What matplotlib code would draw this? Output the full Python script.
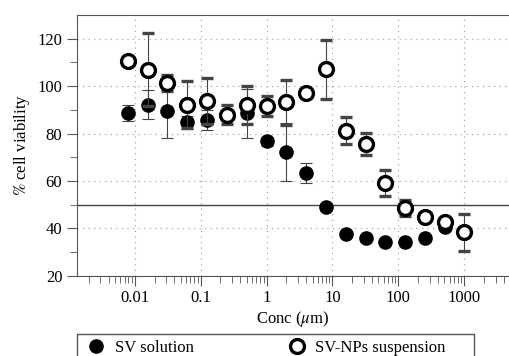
import numpy as np
import matplotlib
matplotlib.use('Agg')
import matplotlib.pyplot as plt
from matplotlib.patches import Rectangle

# concentrations (um), two-fold dilution series
conc = [0.0078, 0.0156, 0.03125, 0.0625, 0.125, 0.25, 0.5, 1, 2, 4, 8,
        16, 32, 64, 128, 256, 512, 1000]

# SV solution
sv_mean = [88.8, 92.2, 89.6, 84.7, 85.7, 88.0, 88.6, 76.7, 72.3, 63.2, 49.2,
           37.6, 35.9, 34.5, 34.1, 35.9, 40.8, 38.0]
sv_err = [3.4, 6.0, 11.4, 2.8, 4.1, 2.0, 10.3, 2.0, 12.2, 4.2, 0,
          0, 0, 0, 0, 0, 0, 0]

# SV-NPs suspension
np_mean = [110.4, 107.0, 101.4, 92.2, 93.8, 88.0, 92.0, 91.7, 93.1, 97.2, 107.1,
           81.2, 75.6, 59.1, 48.6, 44.8, 42.7, 38.3]
np_err = [0, 15.2, 3.4, 9.8, 9.6, 3.9, 7.9, 4.1, 9.6, 0, 12.5,
          5.6, 4.8, 5.5, 3.5, 0, 0, 8.0]

plt.rcParams['font.family'] = 'Liberation Serif'
plt.rcParams['mathtext.fontset'] = 'stix'
plt.rcParams['font.size'] = 12

fig = plt.figure(figsize=(5.09, 3.56), dpi=100)
ax = fig.add_axes([0.151, 0.225, 0.849, 0.733])

ax.axhline(50, color='#444444', lw=1.0, zorder=1)

ax.errorbar(conc, sv_mean, yerr=sv_err, fmt='o', color='black', ms=9.5,
            ecolor='#444444', elinewidth=0.8, capsize=4, capthick=0.8,
            label='SV solution', zorder=3)
ax.errorbar(conc, np_mean, yerr=np_err, fmt='o', mfc='white', mec='black',
            mew=2.4, ms=10, ecolor='#444444', elinewidth=0.8, capsize=4,
            capthick=0.8, label='SV-NPs suspension', zorder=4)

ax.set_xscale('log')
ax.set_xlim(0.00132, 4800)
ax.set_ylim(20, 130)
ax.set_yticks([20, 40, 60, 80, 100, 120])
ax.set_yticks([30, 50, 70, 90, 110], minor=True)
ax.set_xticks([0.01, 0.1, 1, 10, 100, 1000])
ax.set_xticklabels(['0.01', '0.1', '1', '10', '100', '1000'])

ax.grid(True, which='major', ls=(0, (1, 4)), color='#999999', lw=0.8)
ax.tick_params(which='both', direction='out', color='#555555')
ax.tick_params(which='major', length=7)
ax.tick_params(which='minor', length=5)
for s in ['left', 'top', 'bottom']:
    ax.spines[s].set_color('#555555')
ax.spines['right'].set_visible(False)

ax.set_xlabel(r'Conc ($\mu$m)', labelpad=2)
ax.set_ylabel(r'$\%$ cell viability')

# legend below the plot, boxed
h, l = ax.get_legend_handles_labels()
h = [x[0] for x in h]
fig.legend(h, l, loc='upper left', bbox_to_anchor=(0.163, 0.059),
           ncol=2, frameon=False, borderaxespad=0, borderpad=0.3,
           handlelength=1.0, handletextpad=0.6, columnspacing=5.7)
fig.patches.append(Rectangle((0.151, -0.1), 0.780, 0.1618,
                             transform=fig.transFigure, fill=False,
                             edgecolor='#555555', lw=1.0))

fig.savefig('out.png', dpi=100)
